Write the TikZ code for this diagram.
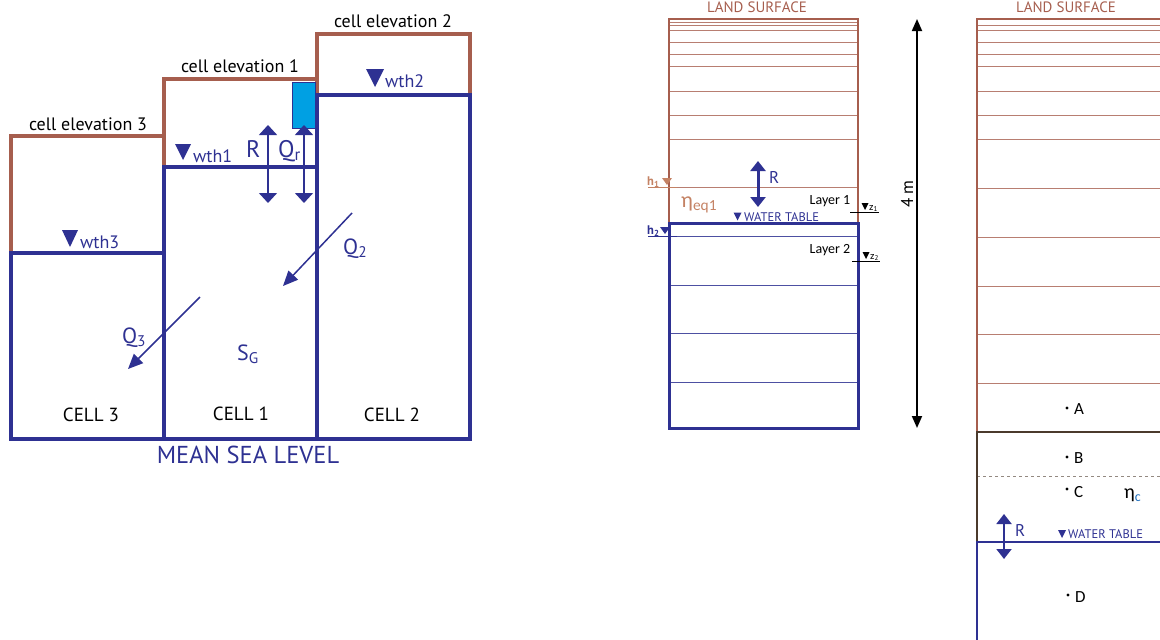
\documentclass[tikz,border=0pt]{standalone}
\usepackage{fontspec}
\setmainfont{PT Sans}
\newfontfamily\calfont{Carlito}
\usepackage{tikz}
\usetikzlibrary{arrows.meta, positioning, calc}

\definecolor{soilbrown}{RGB}{166,94,78}
\definecolor{seablue}{RGB}{46,49,146}
\definecolor{pondcyan}{RGB}{0,160,227}
\definecolor{claybrown}{RGB}{75,58,44}
\definecolor{etabrown}{RGB}{196,130,100}
\definecolor{subblue}{RGB}{30,110,190}

\tikzstyle{ground} = [draw=soilbrown, line width=4pt]
\tikzstyle{water} = [draw=seablue, line width=4pt]
\tikzstyle{layer} = [draw=soilbrown!80, line width=0.8pt]
\tikzstyle{aquifer} = [draw=seablue!85, line width=0.8pt]
\tikzstyle{flux} = [{Triangle[width=18pt,length=10pt]}-{Triangle[width=18pt,length=10pt]}, seablue, line width=1.5pt]
\tikzstyle{recharge} = [{Triangle[width=15pt,length=10pt]}-{Triangle[width=15pt,length=10pt]}, seablue, line width=3pt]
\tikzstyle{lateral} = [-{Triangle[width=13pt,length=15pt]}, seablue, line width=1.5pt]
\tikzstyle{depth} = [{Triangle[width=10pt,length=12pt]}-{Triangle[width=10pt,length=12pt]}, line width=1.8pt]
\tikzstyle{lbl} = [inner sep=0pt, font=\fontsize{18}{20}\selectfont]
\tikzstyle{big} = [inner sep=0pt, seablue, font=\fontsize{24}{26}\selectfont]
\tikzstyle{small} = [inner sep=0pt, font=\calfont\fontsize{14}{16}\selectfont]
\tikzset{wtable/.pic={\fill (-1,0) -- (1,0) -- (0,1) -- cycle;}}

\begin{document}
\begin{tikzpicture}[x=1pt, y=-1pt]
  \useasboundingbox (0,0) rectangle (1160,640);

  % three cells
  \draw[ground, line join=miter] (11,253) -- (11,136) -- (164,136);
  \draw[ground, line join=miter] (164,167) -- (164,79) -- (317,79);
  \draw[ground, line join=miter] (317,95) -- (317,34) -- (470,34) -- (470,95);
  \draw[seablue, fill=pondcyan, line width=1pt] (292,82) rectangle (315.5,128);
  \draw[water] (11,253) rectangle (164,439);
  \draw[water] (164,167) rectangle (317,439);
  \draw[water] (317,95) rectangle (470,439);

  \node[lbl, anchor=base] (elev3) at (88,130) {cell elevation 3};
  \node[lbl, anchor=base] (elev1) at (240,72) {cell elevation 1};
  \node[lbl, anchor=base] (elev2) at (393,27) {cell elevation 2};

  \pic[seablue, xscale=8, yscale=16] at (183,144) {wtable};
  \pic[seablue, xscale=9, yscale=18] at (375,69) {wtable};
  \pic[seablue, xscale=8, yscale=17] at (70,230) {wtable};
  \node[lbl, seablue, anchor=base west] (wth1) at (193,162) {wth1};
  \node[lbl, seablue, anchor=base west] (wth2) at (385,87) {wth2};
  \node[lbl, seablue, anchor=base west] (wth3) at (80,248) {wth3};

  \coordinate (rtop) at (268,125);
  \coordinate (rbot) at (268,203);
  \coordinate (qrtop) at (304,125);
  \coordinate (qrbot) at (304,203);
  \draw[flux] (rbot) -- (rtop);
  \draw[flux] (qrbot) -- (qrtop);
  \node[big, anchor=base west] (rlbl) at (246,157) {R};
  \node[big, anchor=base west] (qrlbl) at (278,157) {Q\textsubscript{r}};

  \coordinate (q2from) at (352,213);
  \coordinate (q2to) at (283,286);
  \coordinate (q3from) at (200,297);
  \coordinate (q3to) at (128,369);
  \draw[lateral] (q2from) -- (q2to);
  \draw[lateral] (q3from) -- (q3to);
  \node[big, anchor=base west, font=\fontsize{22}{24}\selectfont] (q2lbl) at (343,254) {Q\textsubscript{2}};
  \node[big, anchor=base west, font=\fontsize{22}{24}\selectfont] (q3lbl) at (122,343) {Q\textsubscript{3}};
  \node[big, anchor=base west, font=\fontsize{22}{24}\selectfont] (sg) at (237,360) {S\textsubscript{G}};

  \node[lbl, anchor=base, font=\fontsize{19}{21}\selectfont] (cell3) at (91,421) {CELL 3};
  \node[lbl, anchor=base, font=\fontsize{19}{21}\selectfont] (cell1) at (241,420) {CELL 1};
  \node[lbl, anchor=base, font=\fontsize{19}{21}\selectfont] (cell2) at (392,421) {CELL 2};
  \node[lbl, seablue, anchor=base, font=\fontsize{24.5}{26}\selectfont] (msl) at (248,463) {MEAN SEA LEVEL};

  % soil column with layers
  \foreach \y in {22.5,25,30,42,54,66,91,115,139,187.5}
    \draw[layer] (669,\y) -- (858,\y);
  \draw[soilbrown, line width=2.8pt] (669,223) -- (669,19) -- (858,19) -- (858,223);
  \foreach \y in {236,285,333,382}
    \draw[aquifer] (669,\y) -- (858,\y);
  \draw[seablue, line width=3pt] (669,223) rectangle (858,428);
  \node[lbl, soilbrown, anchor=base, font=\fontsize{15}{17}\selectfont] (land1) at (757,12) {LAND SURFACE};

  \coordinate (rtop2) at (758,161);
  \coordinate (rbot2) at (758,207);
  \draw[recharge] (rbot2) -- (rtop2);
  \node[lbl, seablue, anchor=base west, font=\fontsize{17}{19}\selectfont] (rlbl2) at (769,183) {R};

  \node[inner sep=0pt, etabrown, anchor=base west, font=\calfont\fontsize{22}{24}\selectfont] (eta1) at (681,207) {η\textsubscript{eq1}};
  \pic[seablue, xscale=4, yscale=8] at (737.5,212.5) {wtable};
  \node[lbl, seablue, anchor=base west, font=\fontsize{12.5}{14}\selectfont] (wt1) at (744,221) {WATER TABLE};

  \draw[etabrown, line width=1pt] (648,187) -- (677,187);
  \node[inner sep=0pt, etabrown, anchor=base west, font=\bfseries\fontsize{12.5}{13}\selectfont] (h1) at (647,185) {h\textsubscript{1}};
  \pic[etabrown, xscale=5, yscale=7] at (667,178) {wtable};
  \draw[seablue, line width=1pt] (648,236) -- (677,236);
  \node[inner sep=0pt, seablue, anchor=base west, font=\bfseries\fontsize{12.5}{13}\selectfont] (h2) at (647,234) {h\textsubscript{2}};
  \pic[seablue, xscale=5, yscale=7] at (665,227) {wtable};

  \node[small, anchor=base] (lay1) at (830,204) {Layer 1};
  \node[small, anchor=base] (lay2) at (830,253) {Layer 2};
  \draw[line width=1pt] (850,212) -- (879,212);
  \pic[xscale=3.5, yscale=7] at (865,203) {wtable};
  \node[inner sep=0pt, anchor=base west, font=\fontsize{10}{11}\selectfont] (z1) at (869,210) {z\textsubscript{1}};
  \draw[line width=1pt] (852,261) -- (880,261);
  \pic[xscale=3.5, yscale=7] at (866,252) {wtable};
  \node[inner sep=0pt, anchor=base west, font=\fontsize{10}{11}\selectfont] (z2) at (870,259) {z\textsubscript{2}};

  \coordinate (dtop) at (917,19);
  \coordinate (dbot) at (917,428);
  \draw[depth] (dbot) -- (dtop);
  \node[lbl, rotate=90, font=\fontsize{17}{19}\selectfont] (fourm) at (907,194) {4 m};

  % detailed column
  \foreach \y in {25,30.5,42,54,66.5,91,115,139,188,237,286,334,383}
    \draw[layer] (977,\y) -- (1165,\y);
  \draw[soilbrown, line width=2.5pt] (977,432) -- (977,19) -- (1165,19);
  \draw[claybrown!60, dashed, line width=0.8pt] (977,476) -- (1165,476);
  \draw[claybrown, line width=2.5pt] (977,542) -- (977,432) -- (1165,432);
  \draw[seablue, line width=2.5pt] (977,650) -- (977,542) -- (1165,542);
  \node[lbl, soilbrown, anchor=base, font=\fontsize{15}{17}\selectfont] (land2) at (1066,12) {LAND SURFACE};

  \fill (1067,408) circle (1.6);
  \fill (1067,457) circle (1.6);
  \fill (1067,489) circle (1.6);
  \fill (1068,595) circle (1.6);
  \node[small, anchor=base west, font=\calfont\fontsize{17}{19}\selectfont] (ptA) at (1074,414) {A};
  \node[small, anchor=base west, font=\calfont\fontsize{17}{19}\selectfont] (ptB) at (1074,463) {B};
  \node[small, anchor=base west, font=\calfont\fontsize{17}{19}\selectfont] (ptC) at (1074,497) {C};
  \node[small, anchor=base west, font=\calfont\fontsize{17}{19}\selectfont] (ptD) at (1075,602) {D};
  \node[inner sep=0pt, anchor=base west, font=\calfont\fontsize{20}{22}\selectfont] (etac) at (1124,498) {η\textsubscript{\color{subblue}c}};

  \coordinate (rtop3) at (1004,514);
  \coordinate (rbot3) at (1004,559);
  \draw[recharge, line width=2pt] (rbot3) -- (rtop3);
  \node[lbl, seablue, anchor=base west, font=\fontsize{17}{19}\selectfont] (rlbl3) at (1015,536) {R};
  \pic[seablue, xscale=4, yscale=8] at (1062,530) {wtable};
  \node[lbl, seablue, anchor=base west, font=\fontsize{12.5}{14}\selectfont] (wt2) at (1068,538) {WATER TABLE};
\end{tikzpicture}
\end{document}
